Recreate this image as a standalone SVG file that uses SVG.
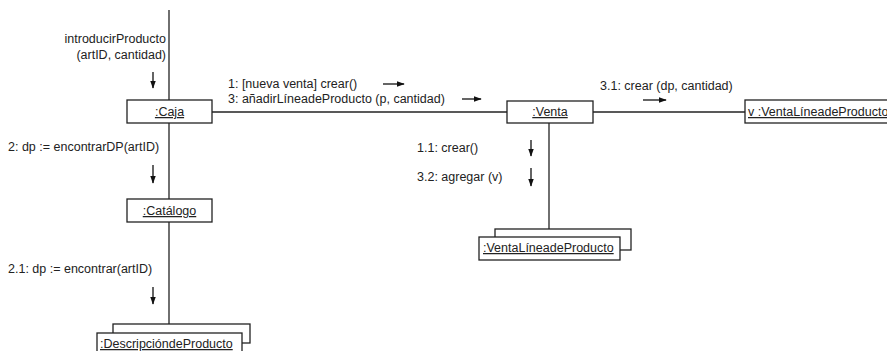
<svg xmlns="http://www.w3.org/2000/svg" width="887" height="351" viewBox="0 0 887 351">
<style>
text{font-family:"Liberation Sans",Arial,sans-serif;font-size:12.5px;fill:#222}
.u{text-decoration:underline}
.box{fill:#fff;stroke:#222;stroke-width:1.3}
.ln{stroke:#222;stroke-width:1.3;fill:none}
.ar{stroke:#111;stroke-width:1.3;fill:none}
</style>
<defs>
<marker id="ah" viewBox="0 0 10 10" refX="9" refY="5" markerWidth="8" markerHeight="8" markerUnits="userSpaceOnUse" orient="auto">
<path d="M0,1.5 L10,5 L0,8.5 z" fill="#111"/>
</marker>
</defs>
<rect width="887" height="351" fill="#fff"/>
<g id="connectors">
<line class="ln" x1="169" y1="10" x2="169" y2="100"/>
<line class="ln" x1="169" y1="123" x2="169" y2="199"/>
<line class="ln" x1="169" y1="222" x2="169" y2="324"/>
<line class="ln" x1="212" y1="112" x2="507" y2="112"/>
<line class="ln" x1="593" y1="112" x2="745" y2="112"/>
<line class="ln" x1="549" y1="123" x2="549" y2="229"/>
<line class="ar" x1="153" y1="72" x2="153" y2="88" marker-end="url(#ah)"/>
<line class="ar" x1="153" y1="165" x2="153" y2="183" marker-end="url(#ah)"/>
<line class="ar" x1="153" y1="287" x2="153" y2="304" marker-end="url(#ah)"/>
<line class="ar" x1="383" y1="84" x2="404" y2="84" marker-end="url(#ah)"/>
<line class="ar" x1="462" y1="99" x2="481" y2="99" marker-end="url(#ah)"/>
<line class="ar" x1="643" y1="100" x2="666" y2="100" marker-end="url(#ah)"/>
<line class="ar" x1="531" y1="140" x2="531" y2="156" marker-end="url(#ah)"/>
<line class="ar" x1="531" y1="168" x2="531" y2="186" marker-end="url(#ah)"/>
<text x="166" y="43" text-anchor="end">introducirProducto</text>
<text x="166" y="59" text-anchor="end">(artID, cantidad)</text>
<text x="228" y="88">1: [nueva venta] crear()</text>
<text x="228" y="103">3: añadirLíneadeProducto (p, cantidad)</text>
<text x="600" y="90">3.1: crear (dp, cantidad)</text>
<text x="8" y="151">2: dp := encontrarDP(artID)</text>
<text x="8" y="273">2.1: dp := encontrar(artID)</text>
<text x="417" y="152">1.1: crear()</text>
<text x="417" y="181">3.2: agregar (v)</text>
</g>
<g id="caja">
<rect class="box" x="127" y="100" width="85" height="23"/>
<text class="u" x="169.5" y="116" text-anchor="middle">:Caja</text>
</g>
<g id="venta">
<rect class="box" x="507" y="101" width="86" height="22"/>
<text class="u" x="550" y="116" text-anchor="middle">:Venta</text>
</g>
<g id="ventaLinea">
<rect class="box" x="745" y="100" width="150" height="23"/>
<text class="u" x="748" y="116">v :VentaLíneadeProducto</text>
</g>
<g id="catalogo">
<rect class="box" x="127" y="199" width="85" height="23"/>
<text class="u" x="169.5" y="215" text-anchor="middle">:Catálogo</text>
</g>
<g id="multiVentaLinea">
<rect class="box" x="495" y="229" width="136" height="21"/>
<rect class="box" x="479" y="237" width="141" height="23"/>
<text class="u" x="483" y="252">:VentaLíneadeProducto</text>
</g>
<g id="multiDescripcion">
<rect class="box" x="113" y="324" width="137" height="19"/>
<rect class="box" x="97" y="333" width="145" height="25"/>
<text class="u" x="100" y="348">:DescripcióndeProducto</text>
</g>
</svg>
